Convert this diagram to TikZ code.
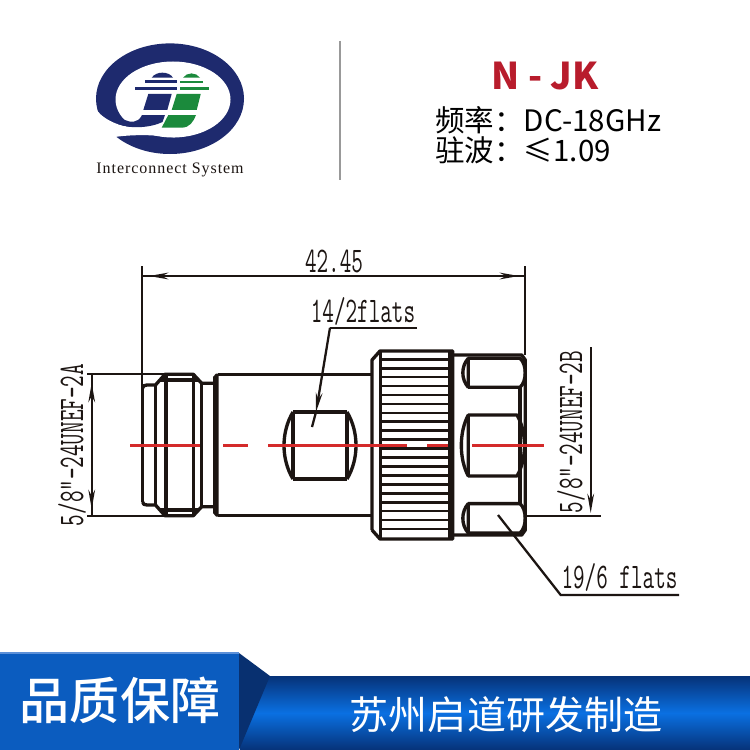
\documentclass[tikz,border=0pt]{standalone}
\usepackage{fontspec}
\usepackage{xcolor}
\usetikzlibrary{arrows.meta}
\newfontfamily\cjk{Noto Sans CJK SC}
\newfontfamily\cjkmed{Noto Sans CJK SC Medium}
\newfontfamily\dimfont[FakeStretch=0.625]{Latin Modern Mono}
\newfontfamily\logofont[LetterSpace=6]{Liberation Serif}
\definecolor{inkc}{HTML}{1C1512}
\definecolor{redc}{HTML}{D42A2A}
\definecolor{modelc}{HTML}{B81C2C}
\definecolor{navyc}{HTML}{1E2A6E}
\definecolor{greenc}{HTML}{1B8A3C}
\definecolor{boxc}{HTML}{0B5CBF}
\definecolor{boxtopc}{HTML}{5C90D8}
\definecolor{foldc}{HTML}{083070}
\definecolor{banddarkc}{HTML}{063278}
\definecolor{bandc}{HTML}{0A70E2}
\begin{document}
\begin{tikzpicture}[x=0.02cm, y=-0.02cm,
                    body line/.style={draw=inkc,line width=1.9pt,line join=round},
                    thin line/.style={draw=inkc,line width=1.3pt},
                    one tip/.style={draw=inkc,line width=1.3pt,-{Stealth[length=11pt,width=3.8pt]}},
                    dim text/.style={font=\dimfont\fontsize{20.5}{20.5}\selectfont,text=inkc,inner sep=0pt},
                    head text/.style={font=\cjk\fontsize{16.8}{16.8}\selectfont,text=black,inner sep=0pt,anchor=west}]

  \path[fill=white,use as bounding box] (0,0) rectangle (750,750);

  % logo
  \fill[navyc] (170,98.7) ellipse [x radius=74, y radius=55.3];
  \fill[white] (173,99.5) ellipse [x radius=57.5, y radius=38];
  \fill[white] (94,106) .. controls (100,118) and (118,127) .. (134,127) .. controls (150,127) and (160,124) .. (175,115)
     -- (175,137.5) .. controls (150,134) and (130,135) .. (116.7,136.7) -- (100,142) -- cycle;
  \fill[navyc] (121,117) .. controls (125,122) and (134,123) .. (138,120) .. controls (141,118) and (141,116) .. (142,115)
     -- (165,115) -- (162.5,122) .. controls (150,128) and (130,129) .. (118,124) -- cycle;
  \fill[navyc] (151.7,77.7) .. controls (156,71) and (169,71) .. (173,77.7) -- cycle;
  \fill[navyc] (145,80) rectangle (176.7,82.7);
  \fill[navyc] (135,87.3) rectangle (177,90);
  \fill[navyc] (148.3,94) -- (171.7,94) -- (167.3,110) -- (143.3,110) -- cycle;
  \fill[greenc] (183,77.7) .. controls (187,72) and (196,72) .. (200,77.7) -- cycle;
  \fill[greenc] (180,80.7) rectangle (203,83.3);
  \fill[greenc] (180,87.3) rectangle (209.3,90);
  \fill[greenc] (176.7,94) -- (200.7,94) -- (196.7,110) -- (171.7,110) -- cycle;
  \fill[greenc] (168.3,115) -- (196,115) .. controls (193,122) and (190,127.7) .. (181,127.7) -- (161.7,127.7) -- cycle;
  \node (logotext) at (170,170) [font=\logofont\fontsize{9.1}{9.1}\selectfont,text=inkc,inner sep=0pt] {Interconnect System};

  % divider and heading
  \draw[draw=black!40,line width=1.2pt] (340,41) -- (340,180);
  \node (model) at (545,76) [font=\cjk\bfseries\fontsize{21}{21}\selectfont,text=modelc,inner sep=0pt] {N - JK};
  \node[head text] (freq) at (435,120) {频率^^^^ff1aDC-18GHz};
  \node[head text] (vswr) at (435,150) {驻波^^^^ff1a≤1.09};

  % socket end
  \draw[body line] (142.7,388) .. controls (142.7,386) and (144,385) .. (147,385) -- (155.5,385) -- (165,374.3) -- (193.3,374.3) -- (201.7,383.3) -- (213.3,383.3);
  \draw[body line] (142.7,502) .. controls (142.7,504) and (144,505) .. (147,505) -- (155.5,505) -- (165,515.7) -- (193.3,515.7) -- (201.7,506.7) -- (213.3,506.7);
  \draw[body line] (142.7,388) -- (142.7,502);
  \draw[body line] (155.5,385) -- (155.5,505);
  \draw[body line] (166,374.3) -- (166,515.7);
  \draw[body line] (193.3,374.3) -- (193.3,515.7);
  \draw[body line] (201.7,383.3) -- (201.7,506.7);
  \draw[body line] (160,380) -- (198,380);
  \draw[body line] (160,510) -- (198,510);
  \fill[inkc] (213,377) -- (216,373.5) -- (218.5,373.5) -- (218.5,516.5) -- (216,516.5) -- (213,513) -- cycle;

  % barrel and flat
  \draw[body line] (218,374.3) -- (372,374.3);
  \draw[body line] (218,515.7) -- (372,515.7);
  \draw[body line] (293,412) -- (347,412);
  \draw[body line] (293,479) -- (347,479);
  \draw[body line] (293,412) -- (293,479);
  \draw[body line] (347,412) -- (347,479);
  \draw[body line] (293,412) .. controls (281,432) and (281,459) .. (293,479);
  \draw[body line] (347,412) .. controls (359,432) and (359,459) .. (347,479);

  % knurled nut
  \draw[body line] (372,530) -- (372,360) -- (380,351) -- (452.7,351) -- (452.7,539) -- (380,539) -- (372,530);
  \draw[body line] (380.7,351) -- (380.7,539);
  \draw[body line] (450,351) -- (450,539);
  \foreach \i in {0,...,19}
    \draw[thin line,line width=1.5pt] (381,359.3+\i*8.93) -- (450,359.3+\i*8.93);

  % hex end
  \draw[body line] (452.7,355) -- (521.7,355) -- (525.3,360) -- (525.3,530) -- (521.7,535) -- (452.7,535);
  \draw[body line] (520,387) -- (520,505);
  \foreach \a/\b in {358.3/387.3, 503.6/533}
  {
    \draw[body line] (468.3,\a) -- (520,\a) .. controls (527,\a+6) and (527,\b-6) .. (520,\b) -- (468.3,\b) -- cycle;
    \draw[body line] (468.3,\a) .. controls (461,\a+8) and (461,\b-8) .. (468.3,\b);
  }
  \draw[body line] (468.3,415) -- (517,415) .. controls (527,432) and (527,459) .. (517,476) -- (468.3,476) -- cycle;
  \draw[body line] (468.3,415) .. controls (459,432) and (459,459) .. (468.3,476);

  % centre line
  \foreach \a/\b in {130/200, 223/248, 268/407, 427/448, 472/544}
    \draw[draw=redc,line width=1.7pt] (\a,445.5) -- (\b,445.5);

  % length
  \coordinate (lentopl) at (142.3,266);
  \coordinate (lenbotl) at (142.3,388);
  \coordinate (lentopr) at (525.3,266);
  \coordinate (lenbotr) at (525.3,355);
  \coordinate (lenl) at (142.3,276);
  \coordinate (lenr) at (525.3,276);
  \coordinate (lenlb) at (170,276);
  \coordinate (lenlt) at (149,276);
  \coordinate (lenrb) at (498,276);
  \coordinate (lenrt) at (519,276);
  \draw[thin line] (lentopl) -- (lenbotl);
  \draw[thin line] (lentopr) -- (lenbotr);
  \draw[thin line] (lenl) -- (lenr);
  \draw[one tip] (lenlb) -- (lenlt);
  \draw[one tip] (lenrb) -- (lenrt);
  \node[dim text] (lentext) at (334,261) {42.45};

  % left thread
  \coordinate (ltop) at (87,374.3);
  \coordinate (lbot) at (87,515.7);
  \coordinate (ltope) at (166,374.3);
  \coordinate (lbote) at (166,515.7);
  \coordinate (ldimt) at (91.7,374.3);
  \coordinate (ldimb) at (91.7,515.7);
  \coordinate (ltipb) at (91.7,402);
  \coordinate (ltipt) at (91.7,383);
  \coordinate (lbotb) at (91.7,488);
  \coordinate (lbott) at (91.7,509);
  \draw[thin line] (ltop) -- (ltope);
  \draw[thin line] (lbot) -- (lbote);
  \draw[thin line] (ldimt) -- (ldimb);
  \draw[one tip] (ltipb) -- (ltipt);
  \draw[one tip] (lbotb) -- (lbott);
  \node[dim text,rotate=90] (lthread) at (72,445) {5/8"-24UNEF-2A};

  % right thread
  \coordinate (rext) at (526,516);
  \coordinate (rend) at (600.7,516);
  \coordinate (rdimt) at (590.7,347);
  \coordinate (rdimb) at (590.7,513);
  \draw[thin line] (rext) -- (rend);
  \draw[one tip] (rdimt) -- (rdimb);
  \node[dim text,rotate=90] (rthread) at (571,432) {5/8"-24UNEF-2B};

  % flats labels
  \coordinate (flatal) at (330,327.7);
  \coordinate (flatar) at (417,327.7);
  \coordinate (flatam) at (316,412);
  \coordinate (flatae) at (312,427);
  \draw[thin line] (flatar) -- (flatal);
  \draw[one tip] (flatal) -- (flatam);
  \draw[thin line] (flatam) -- (flatae);
  \node[dim text] (flatatext) at (363,311) {14/2flats};

  \coordinate (flatbr) at (679,595);
  \coordinate (flatbl) at (560.7,595);
  \coordinate (flatbe) at (498,515);
  \draw[thin line] (flatbr) -- (flatbl) -- (flatbe);
  \node[dim text] (flatbtext) at (619.5,577) {19/6 flats};

  % banner
  \shade[top color=banddarkc,bottom color=banddarkc,middle color=bandc] (240,676) rectangle (750,750);
  \fill[boxc] (0,653) rectangle (239,750);
  \draw[draw=boxtopc,line width=0.8pt] (0,653) -- (239,653);
  \fill[foldc] (239,653) -- (270,676) -- (239,750) -- cycle;
  \node (quality) at (120,700) [font=\cjkmed\fontsize{28.5}{28.5}\selectfont,text=white,inner sep=0pt] {品质保障};
  \node (maker) at (506,715) [font=\cjk\fontsize{22.2}{22.2}\selectfont,text=white,inner sep=0pt] {苏州启道研发制造};

\end{tikzpicture}
\end{document}
